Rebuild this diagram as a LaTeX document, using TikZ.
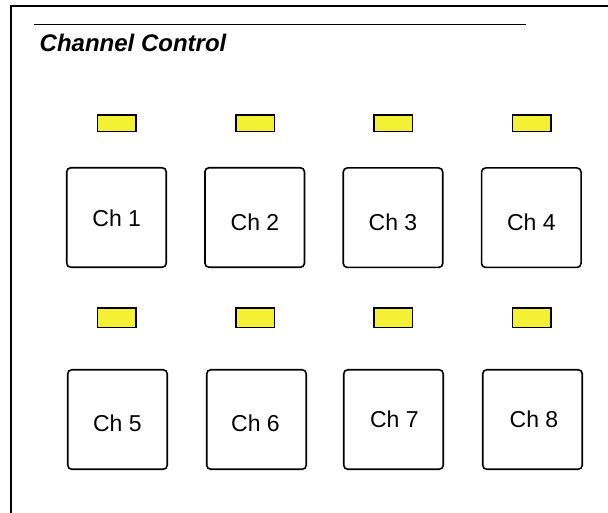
\documentclass[tikz,border=0pt]{standalone}
\usepackage{fontspec}
\setmainfont{Liberation Sans}
\definecolor{ledyellow}{RGB}{244,240,52}
\tikzset{
  btn/.style={draw=black, line width=1.6pt, rounded corners=4pt, fill=white,
              minimum width=99.5pt, minimum height=99.5pt, inner sep=0pt},
  led/.style={draw=black, line width=1.5pt, fill=ledyellow,
              minimum width=38.5pt, inner sep=0pt},
  chtext/.style={inner sep=0pt, font=\fontsize{23}{27}\selectfont},
  frameline/.style={line width=1.3pt},
}
\begin{document}
\begin{tikzpicture}[x=1pt, y=-1pt]
\useasboundingbox (0,0) rectangle (608,513);

% panel frame and title rule
\draw[frameline] (11,513) -- (11,6) -- (608,6);
\draw[frameline] (34,24.3) -- (525.5,24.3);
\node[inner sep=0pt, anchor=base west, font=\fontsize{24}{28}\selectfont\bfseries\itshape]
  (title) at (39.5,51.7) {Channel Control};

% status lamps, upper row
\node[led, minimum height=16.5pt] (l1) at (116.7,123.2) {};
\node[led, minimum height=16.5pt] (l2) at (255,123.2) {};
\node[led, minimum height=16.5pt] (l3) at (393,123.2) {};
\node[led, minimum height=16.5pt] (l4) at (531.7,123.2) {};

% channel buttons, upper row
\node[btn] (b1) at (116.5,217.5) {};
\node[btn] (b2) at (254.7,217.5) {};
\node[btn] (b3) at (393,217.7) {};
\node[btn] (b4) at (531.3,217.7) {};
\node[chtext] (t1) at (116.7,218.3) {Ch 1};
\node[chtext] (t2) at (255,222) {Ch 2};
\node[chtext] (t3) at (393,222) {Ch 3};
\node[chtext] (t4) at (531.3,222) {Ch 4};

% status lamps, lower row
\node[led, minimum height=19.5pt] (l5) at (116.7,317.5) {};
\node[led, minimum height=19.5pt] (l6) at (255,317.5) {};
\node[led, minimum height=19.5pt] (l7) at (393,317.5) {};
\node[led, minimum height=19.5pt] (l8) at (531.5,317.5) {};

% channel buttons, lower row
\node[btn] (b5) at (117.5,419.5) {};
\node[btn] (b6) at (256.5,419.5) {};
\node[btn] (b7) at (393.5,419.5) {};
\node[btn] (b8) at (532.5,419.5) {};
\node[chtext] (t5) at (117.3,423) {Ch 5};
\node[chtext] (t6) at (255.5,423) {Ch 6};
\node[chtext] (t7) at (394.3,419.3) {Ch 7};
\node[chtext] (t8) at (534,419.3) {Ch 8};
\end{tikzpicture}
\end{document}
